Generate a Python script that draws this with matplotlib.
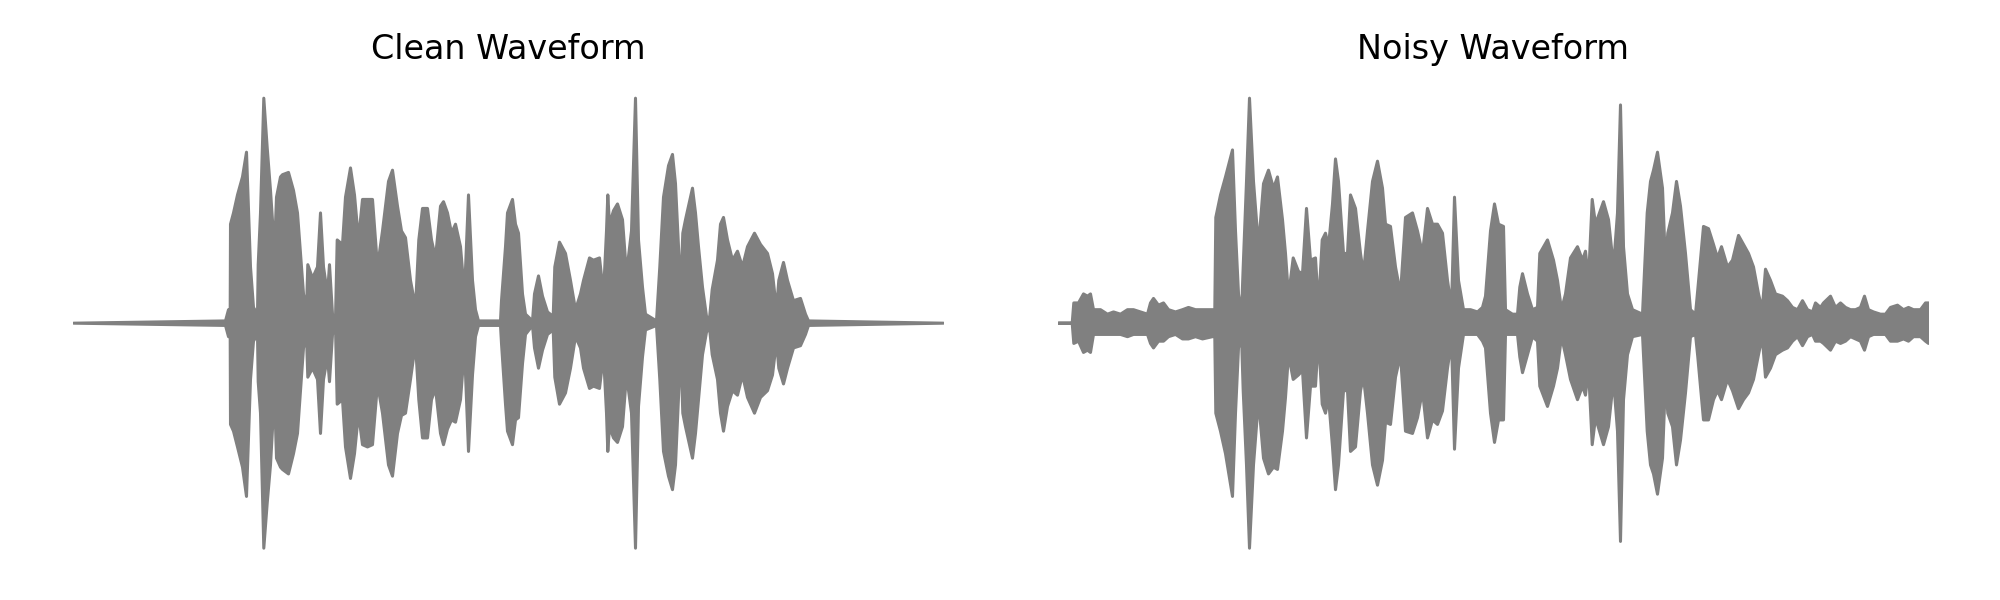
import matplotlib
matplotlib.use("Agg")
import matplotlib.pyplot as plt

# amplitude envelopes (frame index, upper, lower)
clean_frame = [0, 152, 155, 156.7, 157, 160, 164, 169, 173, 177,
               180, 184, 184.7, 187, 190.3, 193.7, 197, 201, 203, 207,
               209, 215, 220, 224, 227, 230, 233, 234.3, 239, 244,
               247, 250, 254, 256, 259, 262, 263.7, 269, 272, 277,
               281, 285, 289, 294, 299, 304, 309, 315, 319, 324,
               328, 332, 337, 342, 345.3, 349, 354, 358, 362, 367,
               370, 374, 378, 382, 387, 391, 395, 399, 402, 405,
               427, 428, 432, 434, 439, 442, 445, 449, 452, 459,
               461, 465, 469, 474, 479.7, 481.3, 486, 492, 497, 502,
               507, 510, 516, 520, 526, 530, 533, 534.3, 536, 540,
               544, 549, 553, 558, 562, 565, 569, 572, 583, 586.3,
               590, 595, 599, 602, 605, 607, 609.3, 612, 619, 622,
               625, 629, 633, 636, 638.7, 644, 647, 650, 654, 659,
               664, 669, 674, 681, 687, 694, 699, 703, 705.3, 710,
               714, 720, 727, 732, 735, 870]
clean_upper = [0, 0.01, 0.06, 0.06, 0.44, 0.49, 0.57, 0.65, 0.76, 0.25,
               0.07, 0.04, 0.26, 0.49, 1.00, 0.78, 0.59, 0.32, 0.56, 0.65,
               0.66, 0.67, 0.59, 0.49, 0.31, 0.13, 0.06, 0.26, 0.20, 0.25,
               0.49, 0.25, 0.13, 0.26, 0.04, 0.02, 0.37, 0.35, 0.56, 0.69,
               0.57, 0.37, 0.55, 0.55, 0.55, 0.25, 0.41, 0.63, 0.68, 0.52,
               0.41, 0.38, 0.19, 0.07, 0.37, 0.51, 0.51, 0.37, 0.29, 0.52,
               0.54, 0.49, 0.40, 0.44, 0.34, 0.13, 0.57, 0.19, 0.06, 0.01,
               0.01, 0.10, 0.34, 0.49, 0.55, 0.44, 0.40, 0.13, 0.04, 0.01,
               0.13, 0.21, 0.12, 0.05, 0.03, 0.25, 0.36, 0.31, 0.19, 0.06,
               0.13, 0.19, 0.29, 0.28, 0.29, 0.13, 0.41, 0.57, 0.44, 0.50,
               0.53, 0.46, 0.22, 0.41, 1.00, 0.37, 0.16, 0.04, 0.01, 0.25,
               0.56, 0.70, 0.75, 0.62, 0.34, 0.13, 0.40, 0.46, 0.60, 0.49,
               0.34, 0.16, 0.03, 0.02, 0.15, 0.28, 0.44, 0.47, 0.37, 0.28,
               0.32, 0.25, 0.34, 0.40, 0.35, 0.31, 0.22, 0.06, 0.19, 0.27,
               0.19, 0.10, 0.11, 0.04, 0.01, 0]
clean_lower = [0, -0.01, -0.06, -0.06, -0.45, -0.48, -0.55, -0.64, -0.77, -0.25,
               -0.08, -0.05, -0.26, -0.40, -1.00, -0.80, -0.63, -0.31, -0.60, -0.64,
               -0.65, -0.67, -0.58, -0.49, -0.30, -0.11, -0.06, -0.24, -0.20, -0.25,
               -0.49, -0.25, -0.15, -0.26, -0.05, -0.02, -0.36, -0.34, -0.55, -0.69,
               -0.58, -0.40, -0.54, -0.55, -0.54, -0.27, -0.40, -0.63, -0.68, -0.49,
               -0.41, -0.40, -0.25, -0.09, -0.34, -0.51, -0.51, -0.34, -0.29, -0.49,
               -0.54, -0.47, -0.43, -0.44, -0.34, -0.11, -0.57, -0.23, -0.06, -0.01,
               -0.01, -0.09, -0.36, -0.48, -0.54, -0.43, -0.42, -0.18, -0.05, -0.01,
               -0.11, -0.20, -0.12, -0.05, -0.03, -0.24, -0.36, -0.31, -0.20, -0.06,
               -0.11, -0.20, -0.29, -0.28, -0.29, -0.14, -0.40, -0.57, -0.46, -0.51,
               -0.53, -0.46, -0.23, -0.40, -1.00, -0.37, -0.15, -0.03, -0.01, -0.25,
               -0.57, -0.68, -0.74, -0.63, -0.33, -0.08, -0.40, -0.46, -0.60, -0.49,
               -0.34, -0.14, -0.04, -0.02, -0.14, -0.25, -0.40, -0.48, -0.37, -0.30,
               -0.32, -0.23, -0.33, -0.40, -0.33, -0.30, -0.23, -0.08, -0.20, -0.27,
               -0.20, -0.11, -0.10, -0.05, -0.01, 0]

noisy_frame = [0, 13.7, 15.3, 20, 25, 29, 32, 35, 42, 49,
               55, 62, 69, 75, 82, 89, 92, 95, 100, 105,
               110, 117, 124, 130, 137, 144, 154, 156.3, 157.3, 162,
               167, 174, 177, 180, 183, 184.7, 188, 191, 195, 200,
               205, 210, 215, 219, 224, 227, 230, 234.7, 240, 244,
               248, 252, 257, 260, 263.7, 267, 270, 274, 277, 280,
               285, 289, 292, 297, 302, 305, 309, 314, 319, 324,
               327, 332, 337, 342, 347, 354, 359, 364, 369, 374,
               379, 384, 389, 393, 396, 400, 405, 412, 419, 424,
               427, 432, 436, 440, 445, 447, 454, 459, 461.3, 464,
               469, 474, 479, 481.3, 489, 495, 499, 503, 507, 512,
               519, 524, 527, 530, 533.7, 537, 545, 550, 555, 559,
               562, 565, 569, 574, 584, 588.7, 592, 595, 599, 604,
               607, 609.3, 614, 618, 622, 627, 632, 637, 639.3, 645,
               650, 655, 659, 663, 669, 674, 680, 685, 690, 695,
               700, 703.7, 707, 712, 717, 724, 729, 734, 739, 744,
               749, 754, 757, 762, 765, 772, 777, 782, 787, 792,
               797, 802, 806, 810, 815, 822, 827, 832, 839, 845,
               850, 855, 862, 867, 870]
noisy_upper = [0, 0, 0.09, 0.09, 0.13, 0.12, 0.13, 0.06, 0.06, 0.04,
               0.05, 0.04, 0.06, 0.06, 0.05, 0.04, 0.09, 0.11, 0.08, 0.09,
               0.06, 0.05, 0.06, 0.07, 0.06, 0.06, 0.06, 0.06, 0.47, 0.57,
               0.65, 0.77, 0.41, 0.13, 0.04, 0.25, 0.63, 1.00, 0.63, 0.34,
               0.62, 0.68, 0.60, 0.65, 0.46, 0.31, 0.12, 0.29, 0.23, 0.22,
               0.51, 0.28, 0.29, 0.07, 0.37, 0.40, 0.34, 0.53, 0.73, 0.63,
               0.31, 0.31, 0.57, 0.51, 0.31, 0.22, 0.41, 0.63, 0.72, 0.60,
               0.44, 0.43, 0.25, 0.13, 0.47, 0.49, 0.41, 0.31, 0.51, 0.44,
               0.44, 0.40, 0.19, 0.07, 0.56, 0.19, 0.06, 0.06, 0.05, 0.07,
               0.12, 0.41, 0.53, 0.44, 0.43, 0.06, 0.04, 0.04, 0.16, 0.22,
               0.13, 0.06, 0.07, 0.31, 0.37, 0.28, 0.19, 0.06, 0.13, 0.29,
               0.34, 0.28, 0.32, 0.19, 0.55, 0.44, 0.54, 0.46, 0.25, 0.49,
               0.97, 0.34, 0.13, 0.06, 0.04, 0.49, 0.63, 0.68, 0.76, 0.60,
               0.26, 0.40, 0.49, 0.63, 0.52, 0.31, 0.06, 0.04, 0.15, 0.43,
               0.42, 0.35, 0.29, 0.34, 0.25, 0.28, 0.39, 0.35, 0.31, 0.25,
               0.13, 0.06, 0.24, 0.19, 0.13, 0.12, 0.10, 0.07, 0.06, 0.10,
               0.06, 0.05, 0.09, 0.07, 0.09, 0.12, 0.07, 0.09, 0.07, 0.06,
               0.06, 0.07, 0.12, 0.06, 0.05, 0.04, 0.04, 0.07, 0.08, 0.06,
               0.07, 0.06, 0.06, 0.09, 0.09]
noisy_lower = [0, 0, -0.09, -0.08, -0.13, -0.12, -0.13, -0.05, -0.05, -0.05,
               -0.05, -0.05, -0.06, -0.05, -0.05, -0.05, -0.09, -0.11, -0.08, -0.08,
               -0.06, -0.05, -0.07, -0.07, -0.06, -0.07, -0.06, -0.06, -0.40, -0.48,
               -0.58, -0.77, -0.40, -0.11, -0.06, -0.30, -0.63, -1.00, -0.63, -0.34,
               -0.60, -0.67, -0.64, -0.65, -0.48, -0.33, -0.14, -0.25, -0.23, -0.21,
               -0.51, -0.28, -0.28, -0.06, -0.36, -0.40, -0.33, -0.55, -0.74, -0.63,
               -0.30, -0.30, -0.57, -0.55, -0.30, -0.24, -0.40, -0.63, -0.72, -0.61,
               -0.44, -0.45, -0.24, -0.14, -0.48, -0.49, -0.42, -0.30, -0.51, -0.43,
               -0.45, -0.39, -0.20, -0.08, -0.56, -0.20, -0.05, -0.05, -0.05, -0.08,
               -0.11, -0.40, -0.53, -0.43, -0.43, -0.05, -0.05, -0.05, -0.15, -0.22,
               -0.14, -0.06, -0.08, -0.28, -0.37, -0.28, -0.20, -0.06, -0.14, -0.25,
               -0.34, -0.28, -0.32, -0.20, -0.54, -0.42, -0.54, -0.46, -0.25, -0.48,
               -0.97, -0.34, -0.14, -0.06, -0.05, -0.48, -0.63, -0.67, -0.76, -0.60,
               -0.25, -0.40, -0.46, -0.63, -0.52, -0.31, -0.06, -0.05, -0.15, -0.43,
               -0.43, -0.34, -0.30, -0.34, -0.25, -0.30, -0.38, -0.34, -0.31, -0.25,
               -0.14, -0.06, -0.24, -0.20, -0.14, -0.12, -0.11, -0.08, -0.06, -0.10,
               -0.06, -0.05, -0.08, -0.08, -0.09, -0.12, -0.08, -0.09, -0.08, -0.06,
               -0.07, -0.08, -0.12, -0.06, -0.05, -0.05, -0.05, -0.08, -0.08, -0.07,
               -0.08, -0.06, -0.06, -0.08, -0.09]

titles = ["Clean Waveform", "Noisy Waveform"]

fig = plt.figure(figsize=(10, 3), dpi=200)
ax1 = fig.add_axes([0.0365, 0.0497, 0.435, 0.825])
ax2 = fig.add_axes([0.529, 0.0497, 0.435, 0.825])

panels = [(ax1, clean_frame, clean_upper, clean_lower),
          (ax2, noisy_frame, noisy_upper, noisy_lower)]
for (ax, fr, up, lo), title in zip(panels, titles):
    ax.fill_between(fr, lo, up, color="gray", linewidth=1.1)
    ax.set_xlim(0, 870)
    ax.set_ylim(-1.1, 1.1)
    ax.set_title(title, fontsize=12)
    ax.axis("off")

fig.savefig("out.png", dpi=200)
